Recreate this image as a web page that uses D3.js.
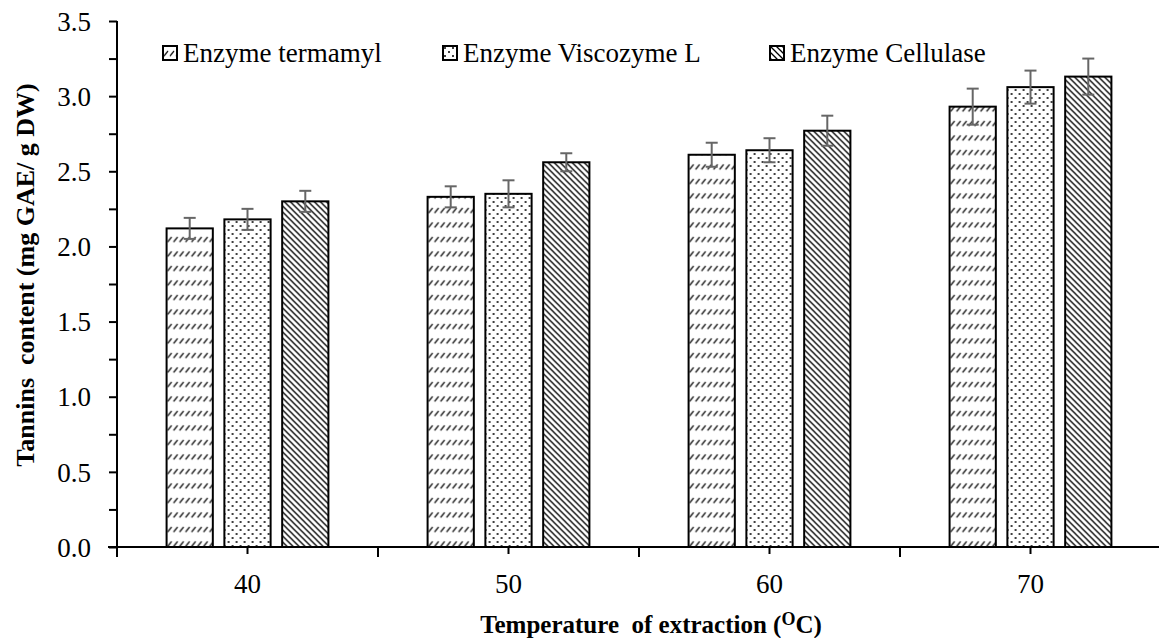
<!DOCTYPE html>
<html>

<head>
    <meta charset='utf-8'>
    <title>Tannins content</title>
    <script type='text/javascript' src='https://cdn.jsdelivr.net/npm/d3@7'></script>
    <style>
        body { margin: 0; background: #fff; }
        text { font-family: 'Liberation Serif', 'Times New Roman', serif; fill: #000; }
    </style>
</head>

<body>
    <svg width='1159' height='638'></svg>
    <script type='text/javascript'>

        // data
        const temps = ['40', '50', '60', '70']
        const seriesNames = ['Enzyme termamyl', 'Enzyme Viscozyme L', 'Enzyme Cellulase']
        const termamyl = [2.12, 2.33, 2.61, 2.93]
        const viscozyme = [2.18, 2.35, 2.64, 3.06]
        const cellulase = [2.30, 2.56, 2.77, 3.13]
        const termamylErr = [0.07, 0.07, 0.08, 0.12]
        const viscozymeErr = [0.07, 0.09, 0.08, 0.11]
        const cellulaseErr = [0.07, 0.06, 0.10, 0.12]
        const yTickLabels = [0, 0.5, 1.0, 1.5, 2.0, 2.5, 3.0, 3.5]

        const values = [termamyl, viscozyme, cellulase]
        const errors = [termamylErr, viscozymeErr, cellulaseErr]
        const patterns = ['pat-slash', 'pat-dots', 'pat-back']

        const svg = d3.select('svg')
        const mLeft = 117, mRight = 1161, mTop = 21, mBottom = 547

        // patterns
        const defs = svg.append('defs')
        const p1 = defs.append('pattern').attr('id', 'pat-slash')
            .attr('patternUnits', 'userSpaceOnUse').attr('width', 6).attr('height', 14.5)
        p1.append('rect').attr('width', 6).attr('height', 14.5).attr('fill', '#fff')
        p1.append('line').attr('x1', 1).attr('y1', 10).attr('x2', 5).attr('y2', 5)
            .attr('stroke', '#000').attr('stroke-width', 1.3)

        const p2 = defs.append('pattern').attr('id', 'pat-dots')
            .attr('patternUnits', 'userSpaceOnUse').attr('width', 8).attr('height', 8)
        p2.append('rect').attr('width', 8).attr('height', 8).attr('fill', '#fff')
        p2.append('circle').attr('cx', 2).attr('cy', 2).attr('r', 1).attr('fill', '#000')
        p2.append('circle').attr('cx', 6).attr('cy', 6).attr('r', 1).attr('fill', '#000')

        const p3 = defs.append('pattern').attr('id', 'pat-back')
            .attr('patternUnits', 'userSpaceOnUse').attr('width', 6).attr('height', 6)
        p3.append('rect').attr('width', 6).attr('height', 6).attr('fill', '#fff')
        p3.append('path').attr('d', 'M0,0L6,6M-1,5L1,7M5,-1L7,1')
            .attr('stroke', '#000').attr('stroke-width', 1.3)

        // scales
        const x0 = d3.scaleBand().domain(temps).range([mLeft, mRight])
            .paddingInner(0.38).paddingOuter(0.19)
        const x1 = d3.scaleBand().domain(d3.range(seriesNames.length))
            .range([0, x0.bandwidth()]).paddingInner(0.2)
        const y = d3.scaleLinear().domain([0, 3.5]).range([mBottom, mTop])

        // bars
        const groups = svg.selectAll('g.grp')
            .data(temps)
            .enter()
            .append('g')
            .attr('class', 'grp')
            .attr('transform', d => `translate(${x0(d)},0)`)

        const cells = groups.selectAll('g.cell')
            .data((d, i) => seriesNames.map((s, k) => ({ k, v: values[k][i], e: errors[k][i] })))
            .enter()
            .append('g')

        cells.append('rect')
            .attr('x', d => x1(d.k))
            .attr('y', d => y(d.v))
            .attr('width', x1.bandwidth())
            .attr('height', d => y(0) - y(d.v))
            .attr('fill', d => `url(#${patterns[d.k]})`)
            .attr('stroke', '#000')
            .attr('stroke-width', 2)

        // error bars
        const ecol = '#666'
        cells.append('line')
            .attr('x1', d => x1(d.k) + x1.bandwidth() / 2)
            .attr('x2', d => x1(d.k) + x1.bandwidth() / 2)
            .attr('y1', d => y(d.v + d.e))
            .attr('y2', d => y(d.v - d.e))
            .attr('stroke', ecol).attr('stroke-width', 2)
        cells.append('line')
            .attr('x1', d => x1(d.k) + x1.bandwidth() / 2 - 6)
            .attr('x2', d => x1(d.k) + x1.bandwidth() / 2 + 6)
            .attr('y1', d => y(d.v + d.e))
            .attr('y2', d => y(d.v + d.e))
            .attr('stroke', ecol).attr('stroke-width', 2)
        cells.append('line')
            .attr('x1', d => x1(d.k) + x1.bandwidth() / 2 - 6)
            .attr('x2', d => x1(d.k) + x1.bandwidth() / 2 + 6)
            .attr('y1', d => y(d.v - d.e))
            .attr('y2', d => y(d.v - d.e))
            .attr('stroke', ecol).attr('stroke-width', 2)

        // y axis
        const minor = d3.range(0, 3.51, 0.25)
        const yAxis = svg.append('g')
            .attr('transform', `translate(${mLeft},0)`)
            .call(d3.axisLeft(y).tickValues(minor).tickSize(8).tickPadding(18)
                .tickFormat(v => yTickLabels.includes(v) ? d3.format('.1f')(v) : ''))
        yAxis.select('.domain').attr('d', `M0,${mTop}V${mBottom + 10}`).attr('stroke-width', 2)
        yAxis.selectAll('.tick line').attr('stroke-width', 2)
        yAxis.selectAll('text').style('font-size', '27px').attr('dy', '0.34em')

        // x axis
        const xAxis = svg.append('g')
            .attr('transform', `translate(0,${mBottom})`)
            .call(d3.axisBottom(x0).tickSize(7).tickPadding(20))
        xAxis.select('.domain').attr('d', `M${mLeft - 9},0H${mRight}`).attr('stroke-width', 2)
        xAxis.selectAll('.tick line').attr('stroke-width', 2)
        xAxis.selectAll('text').style('font-size', '27px')
        xAxis.selectAll('line.bound')
            .data(d3.range(temps.length + 1))
            .enter()
            .append('line')
            .attr('class', 'bound')
            .attr('x1', i => mLeft + i * x0.step())
            .attr('x2', i => mLeft + i * x0.step())
            .attr('y1', 0).attr('y2', 10)
            .attr('stroke', '#000').attr('stroke-width', 2)

        // axis titles
        const xt = svg.append('text')
            .attr('x', 651).attr('y', 633)
            .attr('text-anchor', 'middle')
            .style('font-size', '25px').style('font-weight', 'bold')
        xt.append('tspan').text('Temperature\u00a0 of extraction (')
        xt.append('tspan').attr('dy', -8).style('font-size', '18px').text('O')
        xt.append('tspan').attr('dy', 8).text('C)')

        svg.append('text')
            .attr('transform', `translate(34,275) rotate(-90)`)
            .attr('text-anchor', 'middle')
            .style('font-size', '26px').style('font-weight', 'bold')
            .text('Tannins\u00a0 content (mg GAE/ g DW)')

        // legend
        const legendX = [163, 443, 770]
        const legend = svg.selectAll('g.leg')
            .data(seriesNames)
            .enter()
            .append('g')
            .attr('class', 'leg')
            .attr('transform', (d, i) => `translate(${legendX[i]},46)`)
        legend.append('rect')
            .attr('width', 14).attr('height', 14)
            .attr('fill', (d, i) => `url(#${patterns[i]})`)
            .attr('stroke', '#000').attr('stroke-width', 2)
        legend.append('text')
            .attr('x', 20).attr('y', 16)
            .style('font-size', '27px')
            .text(d => d)
    </script>
</body>

</html>
